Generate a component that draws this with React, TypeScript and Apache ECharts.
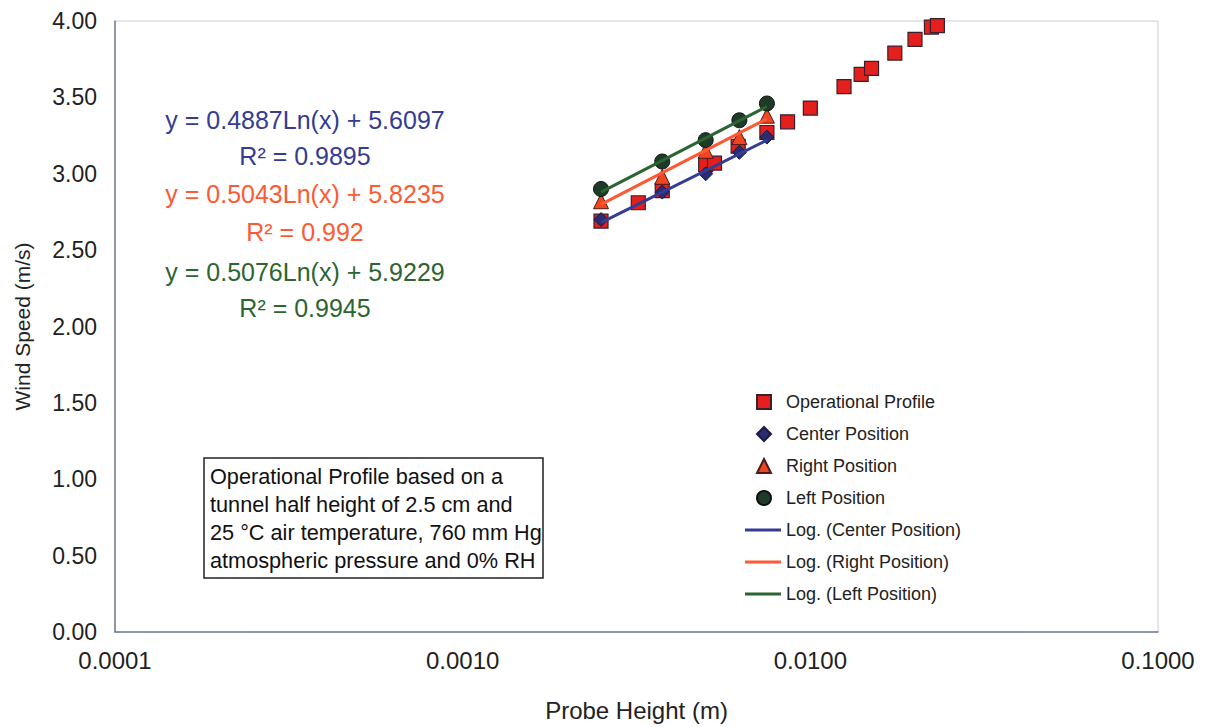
import React, { useEffect, useRef } from "react";
import * as echarts from "echarts";

// Operational profile
const opX = [0.0025, 0.0032, 0.00375, 0.005, 0.0053, 0.0062, 0.0075, 0.0086, 0.01, 0.0125, 0.014, 0.015, 0.0175, 0.02, 0.0223, 0.0232];
const opY = [2.69, 2.81, 2.89, 3.06, 3.07, 3.18, 3.27, 3.34, 3.43, 3.57, 3.65, 3.69, 3.79, 3.88, 3.96, 3.97];
// Probe positions
const posX = [0.0025, 0.00375, 0.005, 0.00625, 0.0075];
const centerY = [2.7, 2.88, 3.0, 3.14, 3.24];
const rightY = [2.82, 2.98, 3.15, 3.24, 3.38];
const leftY = [2.9, 3.08, 3.22, 3.35, 3.46];
// Logarithmic trend line end points
const fitX = [0.0025, 0.0075];
const centerFit = [2.68, 3.22];
const rightFit = [2.8, 3.36];
const leftFit = [2.88, 3.44];

const seriesNames = [
  "Operational Profile",
  "Center Position",
  "Right Position",
  "Left Position",
  "Log. (Center Position)",
  "Log. (Right Position)",
  "Log. (Left Position)",
];
const equationLines = [
  "y = 0.4887Ln(x) + 5.6097",
  "R² = 0.9895",
  "y = 0.5043Ln(x) + 5.8235",
  "R² = 0.992",
  "y = 0.5076Ln(x) + 5.9229",
  "R² = 0.9945",
];
const noteLines = [
  "Operational Profile based on a",
  "tunnel half height of 2.5 cm and",
  "25 °C air temperature, 760 mm Hg",
  "atmospheric pressure and 0% RH",
];

const FONT = "Liberation Sans, Arial, sans-serif";
const BLUE = "#343c94";
const ORANGE = "#fb5a35";
const GREEN = "#2b6531";

const SQUARE = "path://M0,0 L14,0 L14,14 L0,14 Z";
const DIAMOND = "path://M7,0 L14,7 L7,14 L0,7 Z";
const TRIANGLE = "path://M7,0 L14,14 L0,14 Z";

const zip = (xs: number[], ys: number[]) => xs.map((x, i) => [x, ys[i]]);

export default function App() {
  const ref = useRef<HTMLDivElement>(null);
  useEffect(() => {
    document.body.style.margin = "0";
    const chart = echarts.init(ref.current!, null, { renderer: "svg" });
    const eqColors = [BLUE, BLUE, ORANGE, ORANGE, GREEN, GREEN];
    const eqY = [120, 156, 194, 232, 272, 308];
    const legendText = { fontSize: 18, color: "#222", fontFamily: FONT };
    chart.setOption({
      animation: false,
      backgroundColor: "#ffffff",
      grid: {
        left: 115,
        right: 50,
        top: 21,
        bottom: 95,
        show: true,
        borderColor: "#c9cfd6",
        borderWidth: 1,
        backgroundColor: "transparent",
        outerBoundsMode: "none",
      },
      xAxis: {
        type: "log",
        logBase: 10,
        min: 0.0001,
        max: 0.1,
        name: "Probe Height (m)",
        nameLocation: "middle",
        nameGap: 66,
        nameTextStyle: { fontSize: 24, color: "#222", fontFamily: FONT },
        axisLine: { show: true, lineStyle: { color: "#6f7c92", width: 1.5 } },
        axisTick: { show: false },
        minorTick: { show: false },
        splitLine: { show: false },
        axisLabel: {
          fontSize: 24,
          color: "#222",
          fontFamily: FONT,
          margin: 16,
          formatter: (v: number) => v.toFixed(4),
        },
      },
      yAxis: {
        type: "value",
        min: 0,
        max: 4,
        interval: 0.5,
        name: "Wind Speed (m/s)",
        nameLocation: "middle",
        nameGap: 82,
        nameRotate: 90,
        nameTextStyle: { fontSize: 21, color: "#222", fontFamily: FONT },
        axisLine: { show: true, lineStyle: { color: "#6f7c92", width: 1.5 } },
        axisTick: { show: false },
        splitLine: { show: false },
        axisLabel: {
          fontSize: 23,
          color: "#222",
          fontFamily: FONT,
          margin: 18,
          formatter: (v: number) => v.toFixed(2),
        },
      },
      legend: [
        {
          orient: "vertical",
          left: 756,
          top: 393,
          padding: 0,
          itemWidth: 14,
          itemHeight: 14,
          itemGap: 14,
          symbolKeepAspect: true,
          textStyle: { ...legendText, padding: [0, 0, 0, 10] },
          data: [
            { name: seriesNames[0], icon: SQUARE },
            { name: seriesNames[1], icon: DIAMOND },
            { name: seriesNames[2], icon: TRIANGLE },
            { name: seriesNames[3], icon: "circle" },
          ],
        },
        {
          orient: "vertical",
          left: 745,
          top: 521,
          padding: 0,
          itemWidth: 36,
          itemHeight: 3,
          itemGap: 14,
          textStyle: legendText,
          data: [
            { name: seriesNames[4], icon: "rect" },
            { name: seriesNames[5], icon: "rect" },
            { name: seriesNames[6], icon: "rect" },
          ],
        },
      ],
      series: [
        {
          name: seriesNames[0],
          type: "scatter",
          symbol: "rect",
          symbolSize: 14,
          itemStyle: { color: "#e5201c", borderColor: "#3a1f2e", borderWidth: 1.2, opacity: 1 },
          data: zip(opX, opY),
        },
        {
          name: seriesNames[1],
          type: "scatter",
          symbol: "diamond",
          symbolSize: 14,
          itemStyle: { color: "#2b2b72", borderColor: "#1b1b40", borderWidth: 1, opacity: 1 },
          data: zip(posX, centerY),
        },
        {
          name: seriesNames[2],
          type: "scatter",
          symbol: "triangle",
          symbolSize: 15,
          itemStyle: { color: "#f0461f", borderColor: "#4a1a1a", borderWidth: 1, opacity: 1 },
          data: zip(posX, rightY),
        },
        {
          name: seriesNames[3],
          type: "scatter",
          symbol: "circle",
          symbolSize: 15,
          itemStyle: { color: "#1d3b27", borderColor: "#111", borderWidth: 1, opacity: 1 },
          data: zip(posX, leftY),
        },
        {
          name: seriesNames[4],
          type: "line",
          symbol: "none",
          lineStyle: { color: BLUE, width: 3 },
          itemStyle: { color: BLUE },
          data: zip(fitX, centerFit),
        },
        {
          name: seriesNames[5],
          type: "line",
          symbol: "none",
          lineStyle: { color: ORANGE, width: 3 },
          itemStyle: { color: ORANGE },
          data: zip(fitX, rightFit),
        },
        {
          name: seriesNames[6],
          type: "line",
          symbol: "none",
          lineStyle: { color: GREEN, width: 3 },
          itemStyle: { color: GREEN },
          data: zip(fitX, leftFit),
        },
      ],
      graphic: [
        ...equationLines.map((t, i) => ({
          type: "text",
          x: 305,
          y: eqY[i],
          style: {
            text: t,
            fill: eqColors[i],
            fontSize: 25,
            fontFamily: FONT,
            align: "center",
            verticalAlign: "middle",
            textAlign: "center",
            textVerticalAlign: "middle",
          },
        })),
        {
          type: "rect",
          shape: { x: 204, y: 458, width: 339, height: 120 },
          style: { fill: "#fff", stroke: "#222", lineWidth: 1.5 },
        },
        {
          type: "text",
          x: 210,
          y: 462,
          style: {
            text: noteLines.join("\n"),
            fill: "#111",
            fontSize: 21.7,
            lineHeight: 28,
            fontFamily: FONT,
            align: "left",
            verticalAlign: "top",
            textAlign: "left",
            textVerticalAlign: "top",
          },
        },
      ],
    });
    return () => chart.dispose();
  }, []);
  return <div ref={ref} style={{ width: 1208, height: 727 }} />;
}
